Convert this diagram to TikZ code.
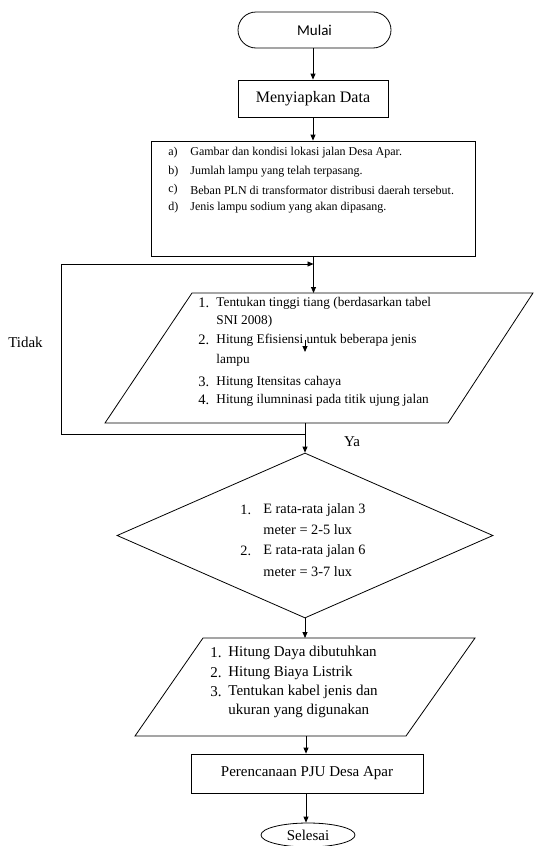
\documentclass[tikz,border=0pt]{standalone}
\usepackage{fontspec}
\setmainfont{Liberation Serif}
\newfontfamily\calfont{Carlito}
\usetikzlibrary{arrows.meta,shapes.geometric}
\begin{document}
\begin{tikzpicture}[x=1pt,y=-1pt,line width=0.8pt,
  arr/.style={-{Triangle[length=6pt,width=5pt]}},
  shapebox/.style={draw,inner sep=0pt},
  dtxt/.style={inner sep=0pt,anchor=west,font=\fontsize{12}{14}\selectfont},
  ptxt/.style={inner sep=0pt,anchor=west,font=\fontsize{13.3}{16}\selectfont},
  pnum/.style={inner sep=0pt,anchor=west,font=\fontsize{14.5}{16}\selectfont},
  etxt/.style={inner sep=0pt,anchor=west,font=\fontsize{14.3}{17}\selectfont},
  qtxt/.style={inner sep=0pt,anchor=west,font=\fontsize{15}{18}\selectfont},
  ltxt/.style={inner sep=0pt,font=\fontsize{15}{18}\selectfont}]
\useasboundingbox (0,0) rectangle (534,846);

% start
\node[shapebox,rounded corners=18pt,minimum width=153pt,minimum height=36pt] (mulai) at (314.5,30) {\calfont\fontsize{15}{18}\selectfont Mulai};
\node[shapebox,minimum width=150pt,minimum height=37pt,font=\fontsize{16}{19}\selectfont] (siap) at (313,98.5) {Menyiapkan Data};
\node[shapebox,minimum width=324pt,minimum height=115pt] (data) at (313.5,198.5) {};

\node[dtxt] (da) at (168,153) {a)};
\node[dtxt] (dat) at (190,153) {Gambar dan kondisi lokasi jalan Desa Apar.};
\node[dtxt] (db) at (168,172) {b)};
\node[dtxt] (dbt) at (190,172) {Jumlah lampu yang telah terpasang.};
\node[dtxt] (dc) at (168,190) {c)};
\node[dtxt] (dct) at (190,190) {Beban PLN di transformator distribusi daerah tersebut.};
\node[dtxt] (dd) at (168,208) {d)};
\node[dtxt] (ddt) at (190,208) {Jenis lampu sodium yang akan dipasang.};

% parallelogram 1
\draw (192,293) -- (533,293) -- (448,423) -- (105,423) -- cycle;
\coordinate (p1n) at (313.5,293);
\coordinate (p1s) at (305,423);
\node[pnum] (n1) at (198,303) {1.};
\node[ptxt] (t1) at (216,303) {Tentukan tinggi tiang (berdasarkan tabel};
\node[ptxt] (t1b) at (216,321) {SNI 2008)};
\node[pnum] (n2) at (198,340) {2.};
\node[ptxt] (t2) at (216,340) {Hitung Efisiensi untuk beberapa jenis};
\node[ptxt] (t2b) at (216,360) {lampu};
\node[pnum] (n3) at (198,382) {3.};
\node[ptxt] (t3) at (216,382) {Hitung Itensitas cahaya};
\node[pnum] (n4) at (198,400) {4.};
\node[ptxt] (t4) at (216,400) {Hitung ilumninasi pada titik ujung jalan};
\coordinate (sa) at (305,340);
\coordinate (sb) at (305,352);
\draw[arr] (sa) -- (sb);

% decision
\node[shapebox,diamond,minimum width=376pt,minimum height=165pt] (dec) at (305,535.5) {};
\node[etxt] (e1) at (240,510) {1.};
\node[etxt] (e1t) at (263,510) {E rata-rata jalan 3};
\node[etxt] (e1b) at (263,530) {meter = 2-5 lux};
\node[etxt] (e2) at (240,551) {2.};
\node[etxt] (e2t) at (263,551) {E rata-rata jalan 6};
\node[etxt] (e2b) at (263,572) {meter = 3-7 lux};

% parallelogram 2
\draw (203,638) -- (475,638) -- (406,736) -- (135,736) -- cycle;
\coordinate (p2n) at (305,638);
\coordinate (p2s) at (306,736);
\node[qtxt] (q1) at (210,653) {1.};
\node[qtxt] (q1t) at (228,653) {Hitung Daya dibutuhkan};
\node[qtxt] (q2) at (210,673) {2.};
\node[qtxt] (q2t) at (228,673) {Hitung Biaya Listrik};
\node[qtxt] (q3) at (210,692) {3.};
\node[qtxt] (q3t) at (228,692) {Tentukan kabel jenis dan};
\node[qtxt] (q3b) at (228,711) {ukuran yang digunakan};

\node[shapebox,minimum width=232pt,minimum height=39pt,font=\fontsize{15}{18}\selectfont] (plan) at (307,773.5) {Perencanaan PJU Desa Apar};
\node[shapebox,ellipse,minimum width=94pt,minimum height=24pt,font=\fontsize{15}{18}\selectfont] (end) at (308,835) {Selesai};

% labels
\node[ltxt] (tidak) at (25.5,342) {Tidak};
\node[ltxt] (ya) at (352,442) {Ya};

% connectors
\coordinate (lp1) at (61,434);
\coordinate (lp2) at (61,264);
\draw[arr] (mulai.south -| siap.north) -- (siap.north);
\draw[arr] (siap.south) -- (siap.south |- data.north);
\draw[arr] (data.south) -- (p1n);
\draw[arr] (p1s) -- (dec.north);
\draw[arr] (p1s |- lp1) -- (lp1) -- (lp2) -- (lp2 -| data.south);
\draw[arr] (dec.south) -- (p2n);
\draw[arr] (p2s) -- (p2s |- plan.north);
\draw[arr] (plan.south -| p2s) -- (p2s |- end.north);
\end{tikzpicture}
\end{document}
